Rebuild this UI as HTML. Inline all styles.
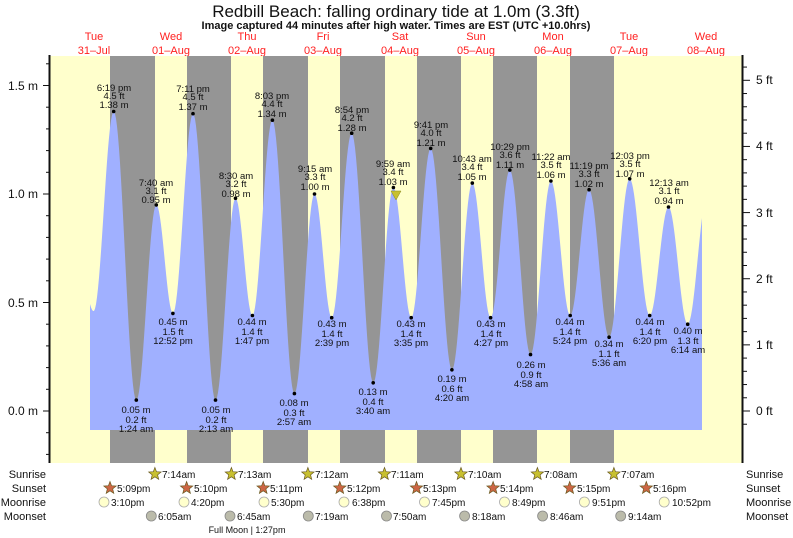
<!DOCTYPE html>
<html><head><meta charset="utf-8"><style>
html,body{margin:0;padding:0;background:#fff}
svg{display:block;font-family:"Liberation Sans",sans-serif}
</style></head><body>
<svg id="s" width="793" height="538" viewBox="0 0 793 538" xmlns="http://www.w3.org/2000/svg">
<rect x="0" y="0" width="793" height="538" fill="#fff"/>
<text x="396" y="17" font-size="17" text-anchor="middle" fill="#111">Redbill Beach: falling  ordinary tide at 1.0m (3.3ft)</text>
<text x="396" y="29" font-size="11" font-weight="bold" text-anchor="middle" fill="#111">Image captured 44 minutes after high water. Times are EST (UTC +10.0hrs)</text>
<g font-size="11" fill="#ff2020" text-anchor="middle">
<text x="94" y="40">Tue</text><text x="94" y="54">31–Jul</text>
<text x="171" y="40">Wed</text><text x="171" y="54">01–Aug</text>
<text x="247" y="40">Thu</text><text x="247" y="54">02–Aug</text>
<text x="323" y="40">Fri</text><text x="323" y="54">03–Aug</text>
<text x="400" y="40">Sat</text><text x="400" y="54">04–Aug</text>
<text x="476" y="40">Sun</text><text x="476" y="54">05–Aug</text>
<text x="553" y="40">Mon</text><text x="553" y="54">06–Aug</text>
<text x="629" y="40">Tue</text><text x="629" y="54">07–Aug</text>
<text x="706" y="40">Wed</text><text x="706" y="54">08–Aug</text>
</g>
<rect x="50" y="56" width="692" height="407" fill="#ffffcc"/>
<g fill="#959595">
<rect x="110" y="56" width="45" height="407"/>
<rect x="187" y="56" width="44" height="407"/>
<rect x="263" y="56" width="45" height="407"/>
<rect x="340" y="56" width="45" height="407"/>
<rect x="417" y="56" width="44" height="407"/>
<rect x="493" y="56" width="44" height="407"/>
<rect x="570" y="56" width="44" height="407"/>
</g>
<path id="tide" fill="#a0b0ff" d=""/>
<line x1="49.5" y1="55" x2="49.5" y2="463" stroke="#111" stroke-width="2"/>
<line x1="742.5" y1="55" x2="742.5" y2="463" stroke="#111" stroke-width="2"/>
<g id="ticks" stroke="#111" stroke-width="1"></g>
<g font-size="12" fill="#111">
<text x="38" y="415" text-anchor="end">0.0 m</text>
<text x="38" y="307" text-anchor="end">0.5 m</text>
<text x="38" y="198" text-anchor="end">1.0 m</text>
<text x="38" y="90" text-anchor="end">1.5 m</text>
<text x="756" y="415">0 ft</text>
<text x="756" y="349">1 ft</text>
<text x="756" y="283">2 ft</text>
<text x="756" y="217">3 ft</text>
<text x="756" y="150">4 ft</text>
<text x="756" y="84">5 ft</text>
</g>
<g id="dots" fill="#000"></g>
<g font-size="9.5" fill="#111" text-anchor="middle">
<text x="114" y="91">6:19 pm</text><text x="114" y="99">4.5 ft</text><text x="114" y="108">1.38 m</text>
<text x="136" y="413">0.05 m</text><text x="136" y="423">0.2 ft</text><text x="136" y="432">1:24 am</text>
<text x="156" y="186">7:40 am</text><text x="156" y="194">3.1 ft</text><text x="156" y="203">0.95 m</text>
<text x="173" y="325">0.45 m</text><text x="173" y="335">1.5 ft</text><text x="173" y="344">12:52 pm</text>
<text x="193" y="92">7:11 pm</text><text x="193" y="100">4.5 ft</text><text x="193" y="110">1.37 m</text>
<text x="216" y="413">0.05 m</text><text x="216" y="423">0.2 ft</text><text x="216" y="432">2:13 am</text>
<text x="236" y="179">8:30 am</text><text x="236" y="187">3.2 ft</text><text x="236" y="197">0.98 m</text>
<text x="252" y="325">0.44 m</text><text x="252" y="335">1.4 ft</text><text x="252" y="344">1:47 pm</text>
<text x="272" y="99">8:03 pm</text><text x="272" y="107">4.4 ft</text><text x="272" y="117">1.34 m</text>
<text x="294" y="406">0.08 m</text><text x="294" y="416">0.3 ft</text><text x="294" y="425">2:57 am</text>
<text x="315" y="172">9:15 am</text><text x="315" y="180">3.3 ft</text><text x="315" y="190">1.00 m</text>
<text x="332" y="327">0.43 m</text><text x="332" y="337">1.4 ft</text><text x="332" y="346">2:39 pm</text>
<text x="352" y="113">8:54 pm</text><text x="352" y="121">4.2 ft</text><text x="352" y="131">1.28 m</text>
<text x="373" y="395">0.13 m</text><text x="373" y="405">0.4 ft</text><text x="373" y="414">3:40 am</text>
<text x="393" y="167">9:59 am</text><text x="393" y="175">3.4 ft</text><text x="393" y="185">1.03 m</text>
<text x="411" y="327">0.43 m</text><text x="411" y="337">1.4 ft</text><text x="411" y="346">3:35 pm</text>
<text x="431" y="128">9:41 pm</text><text x="431" y="136">4.0 ft</text><text x="431" y="146">1.21 m</text>
<text x="452" y="382">0.19 m</text><text x="452" y="392">0.6 ft</text><text x="452" y="401">4:20 am</text>
<text x="472" y="162">10:43 am</text><text x="472" y="170">3.4 ft</text><text x="472" y="180">1.05 m</text>
<text x="491" y="327">0.43 m</text><text x="491" y="337">1.4 ft</text><text x="491" y="346">4:27 pm</text>
<text x="510" y="150">10:29 pm</text><text x="510" y="158">3.6 ft</text><text x="510" y="168">1.11 m</text>
<text x="531" y="368">0.26 m</text><text x="531" y="378">0.9 ft</text><text x="531" y="387">4:58 am</text>
<text x="551" y="160">11:22 am</text><text x="551" y="168">3.5 ft</text><text x="551" y="178">1.06 m</text>
<text x="570" y="325">0.44 m</text><text x="570" y="335">1.4 ft</text><text x="570" y="344">5:24 pm</text>
<text x="589" y="169">11:19 pm</text><text x="589" y="177">3.3 ft</text><text x="589" y="187">1.02 m</text>
<text x="609" y="347">0.34 m</text><text x="609" y="357">1.1 ft</text><text x="609" y="366">5:36 am</text>
<text x="630" y="159">12:03 pm</text><text x="630" y="167">3.5 ft</text><text x="630" y="177">1.07 m</text>
<text x="650" y="325">0.44 m</text><text x="650" y="335">1.4 ft</text><text x="650" y="344">6:20 pm</text>
<text x="669" y="186">12:13 am</text><text x="669" y="194">3.1 ft</text><text x="669" y="204">0.94 m</text>
<text x="688" y="334">0.40 m</text><text x="688" y="344">1.3 ft</text><text x="688" y="353">6:14 am</text>
</g>
<polygon points="391,191 401,191 396,200" fill="#c8c030" stroke="#888820" stroke-width="0.5"/>
<g font-size="11" fill="#111">
<text x="46" y="478" text-anchor="end">Sunrise</text>
<text x="46" y="492" text-anchor="end">Sunset</text>
<text x="46" y="506" text-anchor="end">Moonrise</text>
<text x="46" y="520" text-anchor="end">Moonset</text>
<text x="746" y="478">Sunrise</text>
<text x="746" y="492">Sunset</text>
<text x="746" y="506">Moonrise</text>
<text x="746" y="520">Moonset</text>
</g>
<g id="icons"></g>
<g font-size="10" fill="#111">
<text x="162" y="478">7:14am</text><text x="238" y="478">7:13am</text><text x="315" y="478">7:12am</text><text x="391" y="478">7:11am</text><text x="468" y="478">7:10am</text><text x="544" y="478">7:08am</text><text x="621" y="478">7:07am</text>
<text x="117" y="492">5:09pm</text><text x="194" y="492">5:10pm</text><text x="270" y="492">5:11pm</text><text x="347" y="492">5:12pm</text><text x="423" y="492">5:13pm</text><text x="500" y="492">5:14pm</text><text x="577" y="492">5:15pm</text><text x="653" y="492">5:16pm</text>
<text x="111" y="506">3:10pm</text><text x="191" y="506">4:20pm</text><text x="271" y="506">5:30pm</text><text x="352" y="506">6:38pm</text><text x="432" y="506">7:45pm</text><text x="512" y="506">8:49pm</text><text x="592" y="506">9:51pm</text><text x="672" y="506">10:52pm</text>
<text x="158" y="520">6:05am</text><text x="237" y="520">6:45am</text><text x="315" y="520">7:19am</text><text x="393" y="520">7:50am</text><text x="472" y="520">8:18am</text><text x="550" y="520">8:46am</text><text x="628" y="520">9:14am</text>
</g>
<text x="247" y="533" font-size="9" text-anchor="middle" fill="#111">Full Moon | 1:27pm</text>
</svg>
<script>
(function(){
var NS="http://www.w3.org/2000/svg";
function X(t){return 55.3+3.19*t;}
function Y(h){return 411-217*h;}
var E=[[5.5,0.92],[12.0,0.46],[18.32,1.38],[25.4,0.05],[31.67,0.95],[36.87,0.45],[43.18,1.37],[50.22,0.05],[56.5,0.98],[61.78,0.44],[68.05,1.34],[74.95,0.08],[81.25,1.00],[86.65,0.43],[92.9,1.28],[99.67,0.13],[105.98,1.03],[111.58,0.43],[117.68,1.21],[124.33,0.19],[130.72,1.05],[136.45,0.43],[142.48,1.11],[148.97,0.26],[155.37,1.06],[161.4,0.44],[167.32,1.02],[173.6,0.34],[180.05,1.07],[186.33,0.44],[192.22,0.94],[198.23,0.40],[204.5,1.0]];
function H(t){for(var i=0;i<E.length-1;i++){var a=E[i],b=E[i+1];if(t>=a[0]&&t<=b[0]){var f=(t-a[0])/(b[0]-a[0]);return a[1]+(b[1]-a[1])*(1-Math.cos(Math.PI*f))/2;}}return 0.5;}
var d="M90,430";
for(var x=90;x<=702;x+=1){var t=(x-55.3)/3.19;d+=" L"+x+","+Y(H(t)).toFixed(1);}
d+=" L702,430 Z";
document.getElementById("tide").setAttribute("d",d);
var dots=document.getElementById("dots");
for(var i=2;i<E.length-1;i++){var c=document.createElementNS(NS,"circle");c.setAttribute("cx",X(E[i][0]).toFixed(1));c.setAttribute("cy",Y(E[i][1]).toFixed(1));c.setAttribute("r","1.8");dots.appendChild(c);}
var tk=document.getElementById("ticks");
function ln(x1,y1,x2,y2){var l=document.createElementNS(NS,"line");l.setAttribute("x1",x1);l.setAttribute("y1",y1);l.setAttribute("x2",x2);l.setAttribute("y2",y2);tk.appendChild(l);}
for(var k=-2;k<=16;k++){var y=Y(k/10);if(y<56||y>463)continue;ln(k%5==0?43:46,y,49,y);}
for(var k=-1;k<=26;k++){var y=411-66.14*k/5;if(y<56||y>463)continue;ln(743,y,k%5==0?750:747,y);}
var ic=document.getElementById("icons");
function star(cx,cy,fill){var p=[];for(var j=0;j<10;j++){var r=j%2?2.8:6.5,a=-Math.PI/2+j*Math.PI/5;p.push((cx+r*Math.cos(a)).toFixed(1)+","+(cy+r*Math.sin(a)).toFixed(1));}var g=document.createElementNS(NS,"polygon");g.setAttribute("points",p.join(" "));g.setAttribute("fill",fill);g.setAttribute("stroke","#6a5a20");g.setAttribute("stroke-width","0.7");ic.appendChild(g);}
function circ(cx,cy,fill,st){var c=document.createElementNS(NS,"circle");c.setAttribute("cx",cx);c.setAttribute("cy",cy);c.setAttribute("r","5");c.setAttribute("fill",fill);c.setAttribute("stroke",st);c.setAttribute("stroke-width","0.8");ic.appendChild(c);}
[154.9,231.4,307.9,384.5,461,537.4,613.9].forEach(function(x){star(x,474,"#c8c030");});
[110,186.6,263.2,339.8,416.5,493.1,569.7,646.3].forEach(function(x){star(x,488,"#cc6644");});
[104,184,264,344,424.5,504.5,584.4,664.2].forEach(function(x){circ(x,502,"#ffffcc","#aaa");});
[151.3,230,308.3,386.5,464.6,542.6,620.7].forEach(function(x){circ(x,516,"#bbbbaa","#888");});
})();
</script>
</body></html>
